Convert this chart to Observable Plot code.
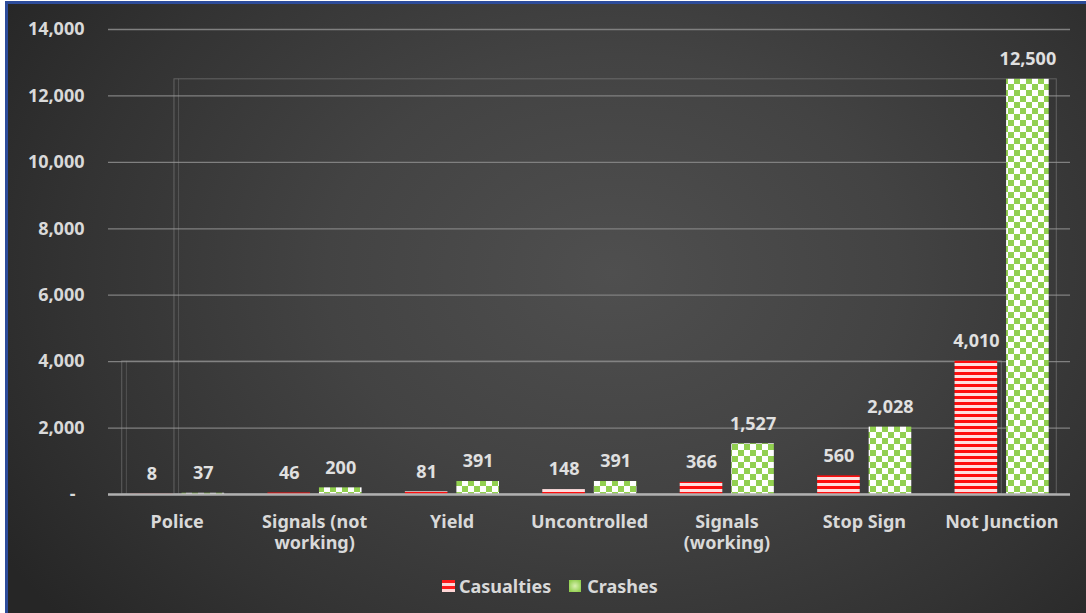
<!DOCTYPE html>
<html><head><meta charset="utf-8">
<script src="https://cdn.jsdelivr.net/npm/d3@7"></script>
<script src="https://cdn.jsdelivr.net/npm/@observablehq/plot@0.6"></script>
<style>
html,body{margin:0;padding:0;background:#fff;width:1086px;height:613px;overflow:hidden;}
#bg{position:absolute;left:5px;top:1px;width:1100px;height:640px;border-left:3px solid #2d4c9b;border-top:3px solid #2d4c9b;
  background:radial-gradient(ellipse 65% 85% at 55% 42%, #4f4f4f 0%, #434343 40%, #333333 75%, #262626 100%);}
#chart{position:absolute;left:0;top:0;width:1086px;}
#legend{position:absolute;left:442px;top:574px;height:24px;display:flex;align-items:center;font-family:"Noto Sans",sans-serif;font-weight:700;font-size:18px;color:#d9d9d9;}
.sw{display:inline-block;width:13px;height:12px;margin-right:4px;}
.sw.cas{background:repeating-linear-gradient(to bottom,#ff1a1a 0px,#ff1a1a 3px,#ffd6d6 3px,#ffd6d6 6px);}
.sw.cr{background:radial-gradient(circle,#d9f0b0 0%,#92d050 80%);margin-left:18px;margin-right:6px;width:12px;}
</style></head>
<body>
<div id="bg"></div>
<div id="chart"></div>
<div id="legend"><span class="sw cas"></span><span>Casualties</span><span class="sw cr"></span><span>Crashes</span></div>
<script>
const categories = ["Police","Signals (not working)","Yield","Uncontrolled","Signals (working)","Stop Sign","Not Junction"];
const categoryLabels = ["Police","Signals (not\nworking)","Yield","Uncontrolled","Signals\n(working)","Stop Sign","Not Junction"];
const casualties = [8,46,81,148,366,560,4010];
const crashes = [37,200,391,391,1527,2028,12500];
const yTicks = [0,2000,4000,6000,8000,10000,12000,14000];

const table = categories.map((c,i)=>({i, category:c, casualties:casualties[i], crashes:crashes[i]}));
const fmt = d3.format(",");
const font = {fontFamily:"Noto Sans", fontWeight:700, fontSize:18, fill:"#d9d9d9"};

// faint frame artifacts present in the reference
const shift = 0.4;
const frames = [
  {x1: 0 - 0.02, x2: categories.length - 1 + shift, top: d3.max(crashes)},
  {x1: -shift, x2: categories.length - 1, top: d3.max(casualties)}
];

const plot = Plot.plot({
  width: 1086, height: 565,
  marginLeft: 108, marginRight: 16, marginTop: 29, marginBottom: 71,
  x: {domain: [-0.5, categories.length - 0.5], axis: null},
  y: {domain: [0, 14000], axis: null},
  style: {background: "transparent", fontFamily: "Noto Sans", fontSize: "18px", color: "#d9d9d9", overflow: "visible"},
  marks: [
    Plot.gridY(yTicks.filter(v => v > 0), {stroke: "#808080", strokeOpacity: 1, strokeWidth: 1.3}),
    Plot.rect(frames, {x1: "x1", x2: "x2", y1: 0, y2: "top", fill: "none", stroke: "#9a9a9a", strokeOpacity: 0.45, strokeWidth: 1}),
    Plot.ruleX(frames, {x: d => d.x1 + 0.03, y1: 0, y2: "top", stroke: "#9a9a9a", strokeOpacity: 0.3}),
    Plot.rectY(table, {x1: d => d.i - 0.34, x2: d => d.i - 0.03, y: "casualties", fill: "url(#stripes)"}),
    Plot.rectY(table, {x1: d => d.i + 0.035, x2: d => d.i + 0.345, y: "crashes", fill: "url(#checker)"}),
    Plot.ruleY([0], {stroke: "#b0b0b0", strokeWidth: 2.5}),
    Plot.text(table, {x: d => d.i - 0.185, y: "casualties", text: d => fmt(d.casualties), dy: -20, lineAnchor: "middle", ...font, fill: "#e0e0e0"}),
    Plot.text(table, {x: d => d.i + 0.19, y: "crashes", text: d => fmt(d.crashes), dy: -20, lineAnchor: "middle", ...font, fill: "#e0e0e0"}),
    Plot.axisY({ticks: yTicks, tickSize: 0, tickPadding: 24, tickFormat: v => v === 0 ? "-\u2002" : fmt(v), ...font}),
    Plot.axisX({ticks: d3.range(categories.length), tickSize: 0, tickPadding: 18, tickFormat: i => categoryLabels[i], lineHeight: 1.2, ...font})
  ]
});

const defs = d3.select(plot).insert("defs", ":first-child");
const st = defs.append("pattern").attr("id", "stripes").attr("patternUnits", "userSpaceOnUse").attr("width", 6).attr("height", 6);
st.append("rect").attr("width", 6).attr("height", 6).attr("fill", "#ffdede");
st.append("rect").attr("width", 6).attr("height", 3).attr("fill", "#ff0d0d");
const ck = defs.append("pattern").attr("id", "checker").attr("patternUnits", "userSpaceOnUse").attr("width", 12).attr("height", 12);
ck.append("rect").attr("width", 12).attr("height", 12).attr("fill", "#ffffff");
ck.append("rect").attr("width", 6).attr("height", 6).attr("fill", "#92d050");
ck.append("rect").attr("x", 6).attr("y", 6).attr("width", 6).attr("height", 6).attr("fill", "#92d050");

document.getElementById("chart").appendChild(plot);
</script>
</body></html>
